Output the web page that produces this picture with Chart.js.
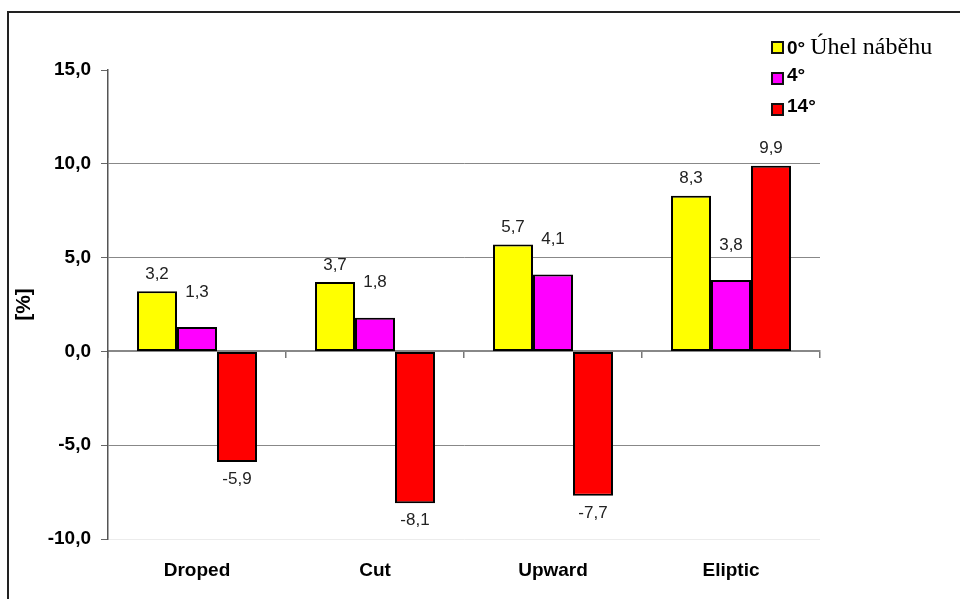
<!DOCTYPE html>
<html lang="cs">
<head>
    <meta charset="UTF-8">
    <title>Úhel náběhu</title>
    <script src="https://cdn.jsdelivr.net/npm/chart.js"></script>
    <style>
        html, body { margin: 0; padding: 0; background: #fff; }
        .frame {
            position: absolute; left: 7px; top: 11px; width: 960px; height: 600px;
            border-top: 2px solid #222; border-left: 2px solid #222;
        }
        #wrap { position: absolute; left: 0; top: 0; width: 960px; height: 599px; }
        .legend { position: absolute; left: 771px; top: 33px; }
        .legend-item { position: relative; height: 31px; white-space: nowrap; }
        .legend-box {
            position: absolute; left: 0; top: 8px; width: 9px; height: 9px;
            border: 2px solid #111;
        }
        .legend-text {
            position: absolute; left: 16px; top: 0px;
            font: bold 19px "Liberation Sans", Arial, sans-serif; color: #000;
        }
        .legend-text .serif {
            font: normal 24px "Liberation Serif", "Times New Roman", serif; margin-left: 5px;
        }
    </style>
</head>
<body>
    <div class="frame"></div>
    <div id="wrap"><canvas id="chart" width="960" height="599"></canvas></div>
    <div class="legend" id="legend"></div>
    <script>
        const categories = ['Droped', 'Cut', 'Upward', 'Eliptic'];
        const seriesNames = ['0°', '4°', '14°'];
        const seriesNote = ['Úhel náběhu', '', ''];
        const seriesColors = ['#FFFF00', '#FF00FF', '#FF0000'];
        const values0 = [3.2, 3.7, 5.7, 8.3];
        const values4 = [1.3, 1.8, 4.1, 3.8];
        const values14 = [-5.9, -8.1, -7.7, 9.9];
        const yTicks = [15, 10, 5, 0, -5, -10];
        // distance of value labels from the bar end, per series
        const labelGap = [17, 35, 17];

        const seriesValues = [values0, values4, values14];

        const fmt = v => v.toFixed(1).replace('.', ',');

        // legend with mixed fonts
        const legendEl = document.getElementById('legend');
        seriesNames.forEach((name, i) => {
            const item = document.createElement('div');
            item.className = 'legend-item';
            item.innerHTML = '<div class="legend-box" style="background:' + seriesColors[i] + '"></div>' +
                '<div class="legend-text">' + name +
                (seriesNote[i] ? '<span class="serif">' + seriesNote[i] + '</span>' : '') + '</div>';
            legendEl.appendChild(item);
        });

        const valueLabels = {
            id: 'valueLabels',
            afterDatasetsDraw(chart) {
                const ctx = chart.ctx;
                ctx.save();
                ctx.font = '17px "Liberation Sans", Arial, sans-serif';
                ctx.fillStyle = '#222';
                ctx.textAlign = 'center';
                ctx.textBaseline = 'middle';
                chart.data.datasets.forEach((ds, i) => {
                    chart.getDatasetMeta(i).data.forEach((bar, j) => {
                        const v = ds.data[j];
                        const y = v >= 0 ? bar.y - labelGap[i] : bar.y + labelGap[i];
                        ctx.fillText(fmt(v), bar.x, y);
                    });
                });
                ctx.restore();
            }
        };

        new Chart(document.getElementById('chart'), {
            type: 'bar',
            data: {
                labels: categories,
                datasets: seriesValues.map((vals, i) => ({
                    label: seriesNames[i],
                    data: vals,
                    backgroundColor: seriesColors[i],
                    borderColor: '#000',
                    borderWidth: 2,
                    borderSkipped: false,
                    categoryPercentage: 0.674,
                    barPercentage: 1,
                    xAxisID: 'x'
                }))
            },
            options: {
                responsive: false,
                animation: false,
                layout: { padding: { left: 12, right: 140, top: 70, bottom: 0 } },
                plugins: { legend: { display: false }, tooltip: { enabled: false } },
                scales: {
                    x: {
                        type: 'category',
                        position: 'bottom',
                        offset: true,
                        grid: { display: false, drawTicks: false },
                        border: { display: false },
                        ticks: {
                            padding: 20,
                            color: '#000',
                            font: { family: '"Liberation Sans", Arial, sans-serif', size: 19, weight: 'bold' }
                        },
                        afterFit(scale) { scale.height = 60; }
                    },
                    xZero: {
                        type: 'category',
                        labels: categories,
                        position: { y: 0 },
                        offset: true,
                        grid: { drawOnChartArea: false, offset: true, tickLength: 6, color: '#777', lineWidth: 1.5 },
                        border: { color: '#888', width: 2 },
                        ticks: { display: false }
                    },
                    y: {
                        min: -10,
                        max: 15,
                        afterBuildTicks(scale) { scale.ticks = yTicks.map(v => ({ value: v })); },
                        grid: {
                            tickLength: 7,
                            tickColor: '#666',
                            lineWidth: 1,
                            color(c) {
                                const v = c.tick && c.tick.value;
                                if (v === 15 || v === 0) return 'rgba(0,0,0,0)';
                                if (v === -10) return '#ececec';
                                return '#888';
                            }
                        },
                        border: { color: '#555', width: 1.5 },
                        ticks: {
                            padding: 10,
                            color: '#000',
                            font: { family: '"Liberation Sans", Arial, sans-serif', size: 19, weight: 'bold' },
                            callback: v => fmt(v)
                        },
                        title: {
                            display: true,
                            text: '[%]',
                            color: '#000',
                            padding: 0,
                            font: { family: '"Liberation Sans", Arial, sans-serif', size: 21, weight: 'bold' }
                        },
                        afterFit(scale) { scale.width = 96; }
                    }
                }
            },
            plugins: [valueLabels]
        });
    </script>
</body>
</html>
